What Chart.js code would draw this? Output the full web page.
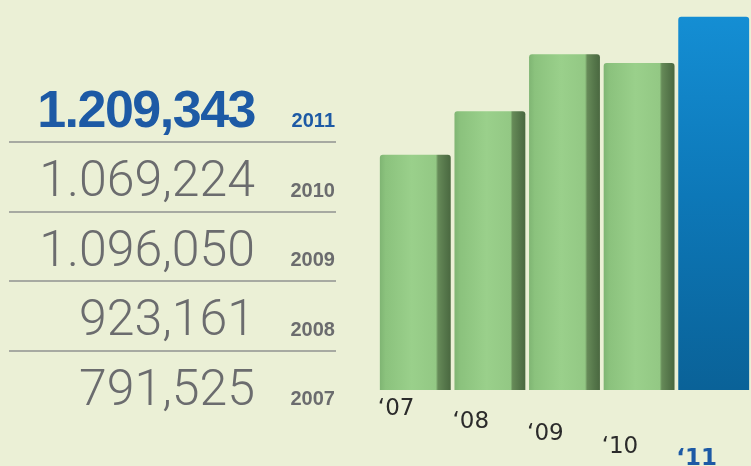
<!DOCTYPE html>
<html>
<head>
<meta charset="utf-8">
<script src="https://cdn.jsdelivr.net/npm/chart.js@4/dist/chart.umd.min.js"></script>
<style>
  html, body { margin: 0; padding: 0; background: #ebf0d6; }
  #wrap { position: relative; width: 751px; height: 466px; overflow: hidden; }
  #chartBox { position: absolute; left: 0; top: 0; width: 751px; height: 466px; }
  #table { position: absolute; left: 0; top: 0; width: 751px; height: 466px; }
  .num, .yr { position: absolute; white-space: nowrap; line-height: 1; }
  .num { font-family: Roboto, sans-serif; font-weight: 300; font-size: 50px; color: #6b6c6e; right: 496px; }
  .num.latest { font-family: "Liberation Sans", Arial, sans-serif; font-weight: bold; font-size: 52px; letter-spacing: -1.5px; color: #1d5aa5; }
  .yr { font-family: "Liberation Sans", Arial, sans-serif; font-weight: bold; font-size: 20px; color: #6b6c6e; right: 416px; }
  .yr.latest { color: #1d5aa5; }
  .rule { position: absolute; left: 9px; width: 327px; height: 2px; background: #a7aaa2; }
</style>
</head>
<body>
<div id="wrap">
  <div id="chartBox"><canvas id="visitsChart"></canvas></div>
  <div id="table"></div>
</div>
<script>
const years = ['2007', '2008', '2009', '2010', '2011'];
const tickLabels = ['\u201807', '\u201808', '\u201809', '\u201810', '\u201811'];
const visitors = [791525, 923161, 1096050, 1069224, 1209343];

function pad3(n) {
    return String(n).padStart(3, '0');
}

// 1209343 -> "1.209,343"
function formatCount(v) {
    const m = Math.floor(v / 1e6);
    const th = Math.floor((v % 1e6) / 1000);
    const u = v % 1000;
    if (m) return m + '.' + pad3(th) + ',' + pad3(u);
    return th + ',' + pad3(u);
}

// Left-hand list, newest year first
function buildTable() {
    const table = document.getElementById('table');
    const last = years.length - 1;
    for (let r = 0; r <= last; r++) {
        const i = last - r;
        const baseline = 127 + r * 69.5;
        const isLatest = i === last;

        const num = document.createElement('div');
        num.className = 'num' + (isLatest ? ' latest' : '');
        num.textContent = formatCount(visitors[i]);
        const size = isLatest ? 52 : 50;
        const ascent = isLatest ? 0.8465 : 0.8415;
        num.style.top = (baseline - size * ascent) + 'px';
        table.appendChild(num);

        const yr = document.createElement('div');
        yr.className = 'yr' + (isLatest ? ' latest' : '');
        yr.textContent = years[i];
        yr.style.top = (baseline - 20 * 0.8465) + 'px';
        table.appendChild(yr);

        if (r < last) {
            const rule = document.createElement('div');
            rule.className = 'rule';
            rule.style.top = (baseline + 14) + 'px';
            table.appendChild(rule);
        }
    }
}

const BAR_PCT = 0.95;

function barWidth(chart) {
    const x = chart.scales.x;
    return x.width / tickLabels.length * BAR_PCT;
}

// Shaded fill: lit front face with a dark side face on the right
function barFill(c) {
    const chart = c.chart;
    const area = chart.chartArea;
    const x = chart.scales.x;
    const latest = c.dataIndex === visitors.length - 1;
    if (!area || !x) return latest ? '#0f7cc0' : '#8fc481';
    const ctx = chart.ctx;
    const center = x.getPixelForValue(c.dataIndex);
    const w = barWidth(chart);
    if (latest) {
        const g = ctx.createLinearGradient(0, area.top, 0, area.bottom);
        g.addColorStop(0, '#1590d6');
        g.addColorStop(0.5, '#0d78b8');
        g.addColorStop(1, '#0a6298');
        return g;
    }
    const g = ctx.createLinearGradient(center - w / 2, 0, center + w / 2, 0);
    g.addColorStop(0, '#7fb573');
    g.addColorStop(0.08, '#8bc27d');
    g.addColorStop(0.45, '#9ad08b');
    g.addColorStop(0.79, '#93c884');
    g.addColorStop(0.82, '#668a58');
    g.addColorStop(0.92, '#55764a');
    g.addColorStop(1, '#4a6840');
    return g;
}

// Year ticks stepping down under each bar
const yearTicks = {
    id: 'yearTicks',
    afterDatasetsDraw(chart) {
        const { ctx, chartArea, scales: { x } } = chart;
        const w = barWidth(chart);
        ctx.save();
        ctx.textBaseline = 'alphabetic';
        ctx.textAlign = 'left';
        tickLabels.forEach((t, i) => {
            const latest = i === tickLabels.length - 1;
            ctx.font = (latest ? 'bold ' : '') + '23px "DejaVu Sans"';
            ctx.fillStyle = latest ? '#1d5aa5' : '#2b2b2b';
            const left = x.getPixelForValue(i) - w / 2;
            ctx.fillText(t, left - 2, chartArea.bottom + 25 + i * 12.5);
        });
        ctx.restore();
    }
};

document.addEventListener('DOMContentLoaded', function () {
    buildTable();

    const ctx = document.getElementById('visitsChart').getContext('2d');
    new Chart(ctx, {
        type: 'bar',
        data: {
            labels: tickLabels,
            datasets: [{
                data: visitors,
                backgroundColor: barFill,
                borderWidth: 0,
                borderRadius: { topLeft: 3, topRight: 3 },
                borderSkipped: 'bottom',
                barPercentage: BAR_PCT,
                categoryPercentage: 1
            }]
        },
        options: {
            responsive: true,
            maintainAspectRatio: false,
            animation: false,
            layout: {
                padding: { left: 378, right: 0, top: 0, bottom: 76 }
            },
            plugins: {
                legend: { display: false },
                tooltip: { enabled: false }
            },
            scales: {
                x: {
                    display: false,
                    grid: { display: false }
                },
                y: {
                    display: false,
                    grid: { display: false },
                    min: 80000,
                    max: 1260000
                }
            }
        },
        plugins: [yearTicks]
    });
});
</script>
</body>
</html>
